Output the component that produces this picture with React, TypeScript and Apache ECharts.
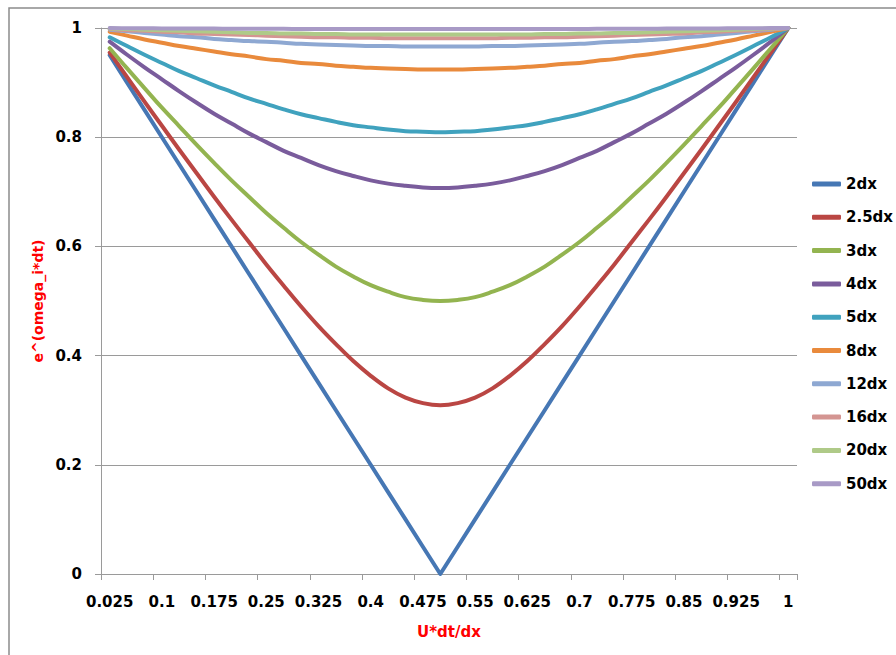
import React, { useEffect, useRef } from "react";
import * as echarts from "echarts";

const categories = ["0.025","0.05","0.075","0.1","0.125","0.15","0.175","0.2","0.225","0.25","0.275","0.3","0.325","0.35","0.375","0.4","0.425","0.45","0.475","0.5","0.525","0.55","0.575","0.6","0.625","0.65","0.675","0.7","0.725","0.75","0.775","0.8","0.825","0.85","0.875","0.9","0.925","0.95","0.975","1"];

const s2dx = [0.95,0.9,0.85,0.8,0.75,0.7,0.65,0.6,0.55,0.5,0.45,0.4,0.35,0.3,0.25,0.2,0.15,0.1,0.05,0,0.05,0.1,0.15,0.2,0.25,0.3,0.35,0.4,0.45,0.5,0.55,0.6,0.65,0.7,0.75,0.8,0.85,0.9,0.95,1];
const s25dx = [0.955,0.910,0.865,0.821,0.777,0.734,0.691,0.649,0.608,0.567,0.528,0.490,0.454,0.421,0.390,0.363,0.340,0.323,0.313,0.309,0.313,0.323,0.340,0.363,0.390,0.421,0.454,0.490,0.528,0.567,0.608,0.649,0.691,0.734,0.777,0.821,0.865,0.910,0.955,1];
const s3dx = [0.963,0.926,0.890,0.854,0.820,0.786,0.753,0.721,0.691,0.661,0.634,0.608,0.585,0.563,0.545,0.529,0.517,0.507,0.502,0.5,0.502,0.507,0.517,0.529,0.545,0.563,0.585,0.608,0.634,0.661,0.691,0.721,0.753,0.786,0.820,0.854,0.890,0.926,0.963,1];
const s4dx = [0.975,0.951,0.928,0.906,0.884,0.863,0.843,0.825,0.807,0.791,0.775,0.762,0.749,0.738,0.729,0.721,0.715,0.711,0.708,0.707,0.708,0.711,0.715,0.721,0.729,0.738,0.749,0.762,0.775,0.791,0.807,0.825,0.843,0.863,0.884,0.906,0.928,0.951,0.975,1];
const s5dx = [0.983,0.967,0.951,0.936,0.921,0.908,0.895,0.883,0.871,0.861,0.851,0.842,0.835,0.828,0.822,0.818,0.814,0.811,0.810,0.809,0.810,0.811,0.814,0.818,0.822,0.828,0.835,0.842,0.851,0.861,0.871,0.883,0.895,0.908,0.921,0.936,0.951,0.967,0.983,1];
const s8dx = [0.993,0.986,0.979,0.973,0.967,0.962,0.957,0.952,0.948,0.943,0.940,0.936,0.934,0.931,0.929,0.927,0.926,0.925,0.924,0.924,0.924,0.925,0.926,0.927,0.929,0.931,0.934,0.936,0.940,0.943,0.948,0.952,0.957,0.962,0.967,0.973,0.979,0.986,0.993,1];
const s12dx = [0.997,0.994,0.991,0.988,0.985,0.983,0.980,0.978,0.976,0.975,0.973,0.971,0.970,0.969,0.968,0.967,0.967,0.966,0.966,0.966,0.966,0.966,0.967,0.967,0.968,0.969,0.970,0.971,0.973,0.975,0.976,0.978,0.980,0.983,0.985,0.988,0.991,0.994,0.997,1];
const s16dx = [0.998,0.996,0.995,0.993,0.992,0.990,0.989,0.988,0.987,0.986,0.985,0.984,0.983,0.983,0.982,0.982,0.981,0.981,0.981,0.981,0.981,0.981,0.981,0.982,0.982,0.983,0.983,0.984,0.985,0.986,0.987,0.988,0.989,0.990,0.992,0.993,0.995,0.996,0.998,1];
const s20dx = [0.999,0.998,0.997,0.996,0.995,0.994,0.993,0.992,0.991,0.991,0.990,0.990,0.989,0.989,0.988,0.988,0.988,0.988,0.988,0.988,0.988,0.988,0.988,0.988,0.988,0.989,0.989,0.990,0.990,0.991,0.991,0.992,0.993,0.994,0.995,0.996,0.997,0.998,0.999,1];
const s50dx = [0.9998,0.9996,0.9995,0.9993,0.9991,0.9990,0.9989,0.9987,0.9986,0.9985,0.9984,0.9983,0.9983,0.9982,0.9982,0.9981,0.9981,0.9980,0.9980,0.9980,0.9980,0.9980,0.9981,0.9981,0.9982,0.9982,0.9983,0.9983,0.9984,0.9985,0.9986,0.9987,0.9989,0.9990,0.9991,0.9993,0.9995,0.9996,0.9998,1];

const seriesNames = ["2dx","2.5dx","3dx","4dx","5dx","8dx","12dx","16dx","20dx","50dx"];
const seriesData = [s2dx, s25dx, s3dx, s4dx, s5dx, s8dx, s12dx, s16dx, s20dx, s50dx];
const colors = ["#4677B4","#BA4643","#93B450","#7A5C9C","#40A2BE","#E98A3C","#8EA8D2","#D49592","#AFCA88","#A89AC6"];

const FONT = "DejaVu Sans";

export default function App() {
  const ref = useRef<HTMLDivElement>(null);
  useEffect(() => {
    if (!ref.current) return;
    const chart = echarts.init(ref.current, null, { renderer: "svg" });
    chart.setOption({
      animation: false,
      backgroundColor: "#ffffff",
      color: colors,
      graphic: [
        {
          type: "rect",
          shape: { x: 9, y: 8, width: 910, height: 680 },
          style: { fill: "none", stroke: "#8c8c8c", lineWidth: 1.5 },
          silent: true,
        },
      ],
      grid: { left: 101, right: 99, top: 28, bottom: 81, containLabel: false },
      legend: {
        orient: "vertical",
        left: 812,
        top: 175,
        padding: 0,
        itemGap: 15.3,
        itemWidth: 29,
        itemHeight: 5,
        icon: "roundRect",
        data: seriesNames,
        textStyle: { fontFamily: FONT, fontWeight: "bold", fontSize: 15, color: "#000", lineHeight: 18 },
      },
      xAxis: {
        type: "category",
        data: categories,
        boundaryGap: true,
        name: "U*dt/dx",
        nameLocation: "middle",
        nameGap: 50,
        nameTextStyle: { color: "#ff0000", fontFamily: FONT, fontWeight: "bold", fontSize: 15 },
        axisLine: { lineStyle: { color: "#9a9a9a", width: 1 } },
        axisTick: { show: true, interval: 2, length: 6, alignWithLabel: false, lineStyle: { color: "#9a9a9a" } },
        axisLabel: { interval: 2, margin: 20, color: "#000", fontFamily: FONT, fontWeight: "bold", fontSize: 15 },
        splitLine: { show: false },
      },
      yAxis: {
        type: "value",
        min: 0,
        max: 1,
        interval: 0.2,
        name: "e^(omega_i*dt)",
        nameLocation: "middle",
        nameGap: 56,
        nameRotate: 90,
        nameTextStyle: { color: "#ff0000", fontFamily: FONT, fontWeight: "bold", fontSize: 14 },
        axisLine: { show: true, lineStyle: { color: "#9a9a9a", width: 1 } },
        axisTick: { show: true, length: 6, lineStyle: { color: "#9a9a9a" } },
        axisLabel: {
          margin: 19,
          color: "#000",
          fontFamily: FONT,
          fontWeight: "bold",
          fontSize: 15,
          formatter: (v: number) => String(Math.round(v * 10) / 10),
        },
        splitLine: { show: true, lineStyle: { color: "#9a9a9a", width: 1 } },
      },
      series: seriesNames.map((name, i) => ({
        name,
        type: "line",
        data: seriesData[i],
        smooth: i === 0 ? false : 0.4,
        symbol: "none",
        clip: false,
        lineStyle: { width: 4, color: colors[i], cap: "round", join: "round" },
        itemStyle: { color: colors[i] },
      })),
    });
    return () => chart.dispose();
  }, []);
  return (
    <div
      ref={ref}
      style={{ position: "fixed", left: 0, top: 0, width: 896, height: 655 }}
    />
  );
}
